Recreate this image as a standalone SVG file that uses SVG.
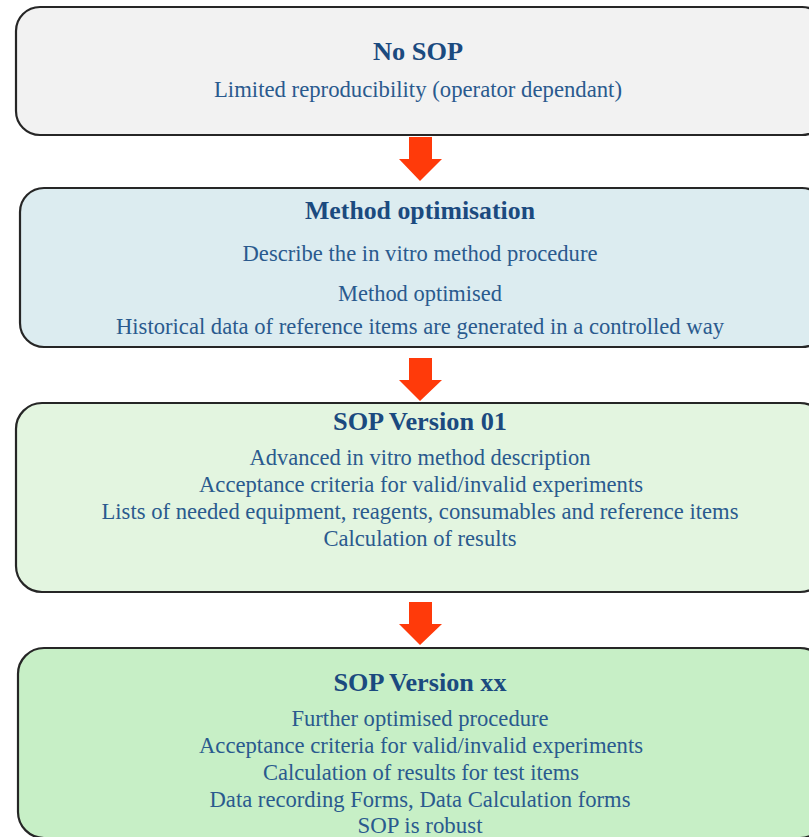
<svg xmlns="http://www.w3.org/2000/svg" width="809" height="837" viewBox="0 0 809 837">
<style>
.box{stroke:#262626;stroke-width:2.2}
.t{font-family:'Liberation Serif',Tinos,'Times New Roman',Times,serif;font-weight:bold;font-size:25px;fill:#1b4a7f;text-anchor:middle}
.b{font-family:'Liberation Serif',Tinos,'Times New Roman',Times,serif;font-size:23px;fill:#2a5a8e;text-anchor:middle}
.arr{fill:#ff3a0a}
</style>
<rect width="809" height="837" fill="#ffffff"/>
<g id="n1">
<rect class="box" x="16" y="7" width="810" height="128" rx="24" fill="#f2f2f2"/>
<text class="t" x="418" y="60" textLength="90" lengthAdjust="spacingAndGlyphs">No SOP</text>
<text class="b" x="418" y="97" textLength="408" lengthAdjust="spacingAndGlyphs">Limited reproducibility (operator dependant)</text>
</g>
<g id="n2">
<rect class="box" x="20" y="188" width="806" height="159" rx="24" fill="#dcecf0"/>
<text class="t" x="420" y="219" textLength="230" lengthAdjust="spacingAndGlyphs">Method optimisation</text>
<text class="b" x="420" y="261" textLength="355" lengthAdjust="spacingAndGlyphs">Describe the in vitro method procedure</text>
<text class="b" x="420" y="301" textLength="164" lengthAdjust="spacingAndGlyphs">Method optimised</text>
<text class="b" x="420" y="334" textLength="608" lengthAdjust="spacingAndGlyphs">Historical data of reference items are generated in a controlled way</text>
</g>
<g id="n3">
<rect class="box" x="16" y="403" width="810" height="189" rx="26" fill="#e3f5e0"/>
<text class="t" x="420" y="430" textLength="174" lengthAdjust="spacingAndGlyphs">SOP Version  01</text>
<text class="b" x="420" y="465" textLength="341" lengthAdjust="spacingAndGlyphs">Advanced in vitro method description</text>
<text class="b" x="421" y="492" textLength="444" lengthAdjust="spacingAndGlyphs">Acceptance criteria  for valid/invalid  experiments</text>
<text class="b" x="420" y="519" textLength="637" lengthAdjust="spacingAndGlyphs">Lists of needed equipment, reagents, consumables and reference items</text>
<text class="b" x="420" y="546" textLength="193" lengthAdjust="spacingAndGlyphs">Calculation of results</text>
</g>
<g id="n4">
<rect class="box" x="18" y="648" width="808" height="190" rx="26" fill="#c7efc6"/>
<text class="t" x="420" y="691" textLength="173" lengthAdjust="spacingAndGlyphs">SOP Version  xx</text>
<text class="b" x="420" y="726" textLength="257" lengthAdjust="spacingAndGlyphs">Further optimised procedure</text>
<text class="b" x="421" y="753" textLength="444" lengthAdjust="spacingAndGlyphs">Acceptance criteria  for valid/invalid  experiments</text>
<text class="b" x="421" y="780" textLength="316" lengthAdjust="spacingAndGlyphs">Calculation of results for test items</text>
<text class="b" x="420" y="807" textLength="421" lengthAdjust="spacingAndGlyphs">Data recording Forms, Data Calculation forms</text>
<text class="b" x="420" y="833" textLength="125" lengthAdjust="spacingAndGlyphs">SOP is robust</text>
</g>
<g id="connectors">
<polygon class="arr" points="409,137 432,137 432,159 442,159 420,181 399,159 409,159"/>
<polygon class="arr" points="409,358 432,358 432,380 442,380 420,401 399,380 409,380"/>
<polygon class="arr" points="409,602 432,602 432,624 442,624 420,645 399,624 409,624"/>
</g>
</svg>
